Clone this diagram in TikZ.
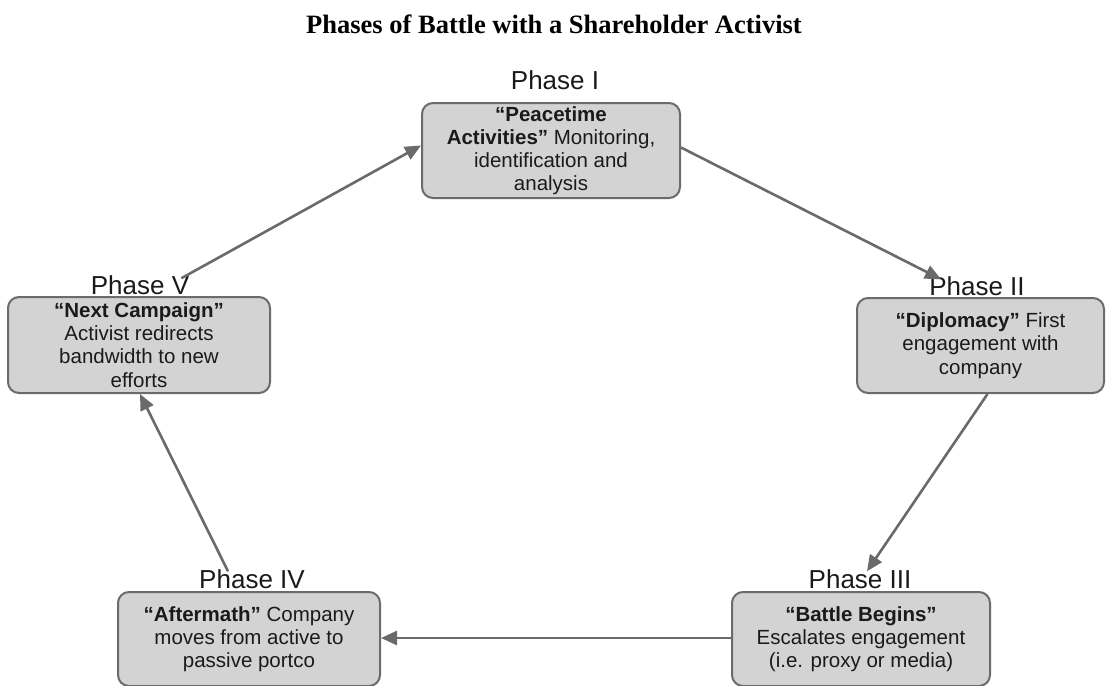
\documentclass[tikz,border=0pt]{standalone}
\usepackage{fontspec}
\setmainfont{Liberation Sans}
\newfontfamily\titlefont{Liberation Serif}
\usetikzlibrary{arrows.meta,calc}
\definecolor{boxfill}{HTML}{D3D3D3}
\definecolor{boxline}{HTML}{6B6B6B}
\definecolor{arrowgray}{HTML}{6A6A6A}
\definecolor{ink}{HTML}{1A1A1A}
\tikzset{
  phasebox/.style={draw=boxline, fill=boxfill, line width=2pt, rounded corners=11pt,
    align=center, text=ink, inner sep=0pt,
    font=\fontsize{20.5}{23.2}\selectfont},
  phaselabel/.style={text=ink, inner sep=0pt, font=\fontsize{26}{30}\selectfont},
  flow/.style={draw=arrowgray, line width=2.6pt,
    -{Triangle[length=16pt,width=14pt]}},
}
\begin{document}
\begin{tikzpicture}[x=1pt,y=-1pt]
\useasboundingbox (0,0) rectangle (1107,685);

% title
\node (title) at (554,24) {\titlefont\bfseries\fontsize{26.5}{30}\selectfont Phases of Battle with a Shareholder Activist};

% phase boxes
\node[phasebox, minimum width=258pt, minimum height=95pt] (b1) at (551,150.5)
  {\textbf{“Peacetime}\\\textbf{Activities”} Monitoring,\\identification and\\analysis};
\node[phasebox, minimum width=247pt, minimum height=95pt] (b2) at (980.5,345.5)
  {\textbf{“Diplomacy”} First\\engagement with\\company};
\node[phasebox, minimum width=258pt, minimum height=94pt] (b3) at (861,639)
  {\textbf{“Battle Begins”}\\Escalates engagement\\(i.e. proxy or media)};
\node[phasebox, minimum width=262pt, minimum height=94pt] (b4) at (249,639)
  {\textbf{“Aftermath”} Company\\moves from active to\\passive portco};
\node[phasebox, minimum width=262pt, minimum height=96pt] (b5) at (139,345)
  {\textbf{“Next Campaign”}\\Activist redirects\\bandwidth to new\\efforts};

% phase titles
\node[phaselabel] (l1) at (555,80) {Phase I};
\node[phaselabel] (l2) at (977,286) {Phase II};
\node[phaselabel] (l3) at (860,579) {Phase III};
\node[phaselabel] (l4) at (252,579) {Phase IV};
\node[phaselabel] (l5) at (140,285) {Phase V};

% cycle of phases
\draw[flow] ([xshift=-8pt,yshift=-3pt]l5.north east) -- ([yshift=5pt]b1.west);
\draw[flow] ([yshift=3pt]b1.east) -- ([xshift=-36pt,yshift=-3pt]l2.north);
\draw[flow] ([xshift=7pt]b2.south) -- ([xshift=7pt,yshift=-2pt]l3.north);
\draw[flow] ([yshift=1pt]b3.west) -- ([yshift=1pt]b4.east);
\draw[flow] ([xshift=-24pt,yshift=-2pt]l4.north) -- ([xshift=1pt]b5.south);
\end{tikzpicture}
\end{document}
